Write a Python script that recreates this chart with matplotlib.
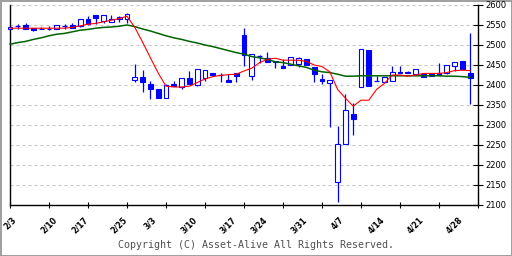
import numpy as np
import matplotlib.pyplot as plt

# 日付 (営業日) 2/3 - 5/1
dates = ["2/3", "2/4", "2/5", "2/6", "2/7", "2/10", "2/12", "2/13", "2/14",
         "2/17", "2/18", "2/19", "2/20", "2/21", "2/25", "2/26", "2/27", "2/28",
         "3/3", "3/4", "3/5", "3/6", "3/7", "3/10", "3/11", "3/12", "3/13", "3/14",
         "3/17", "3/18", "3/19", "3/21", "3/24", "3/25", "3/26", "3/27", "3/28",
         "3/31", "4/1", "4/2", "4/3", "4/4", "4/7", "4/8", "4/9", "4/10", "4/11",
         "4/14", "4/15", "4/16", "4/17", "4/18", "4/21", "4/22", "4/23", "4/24",
         "4/25", "4/28", "4/30", "5/1"]
shown = ["2/3", "2/10", "2/17", "2/25", "3/3", "3/10", "3/17", "3/24",
         "3/31", "4/7", "4/14", "4/21", "4/28"]

opens = [2540, 2548, 2550, 2542, 2541, 2541, 2539, 2548, 2550, 2548,
         2564, 2574, 2560, 2557, 2564, 2565, 2413, 2420, 2402, 2390,
         2368, 2402, 2396, 2417, 2400, 2418, 2429, 2425, 2413, 2429,
         2525, 2423, 2473, 2467, 2460, 2448, 2450, 2452, 2464, 2444,
         2415, 2404, 2158, 2252, 2328, 2394, 2488, 2410, 2408, 2411,
         2433, 2433, 2428, 2427, 2427, 2429, 2429, 2448, 2460, 2430]
highs = [2547, 2553, 2554, 2542, 2546, 2548, 2550, 2553, 2554, 2564,
         2572, 2575, 2574, 2575, 2572, 2581, 2453, 2438, 2410, 2390,
         2402, 2411, 2417, 2436, 2439, 2437, 2429, 2430, 2427, 2430,
         2543, 2477, 2474, 2482, 2461, 2464, 2471, 2470, 2464, 2445,
         2427, 2412, 2298, 2377, 2354, 2489, 2488, 2422, 2419, 2448,
         2448, 2435, 2439, 2427, 2427, 2456, 2449, 2458, 2460, 2529]
lows = [2539, 2541, 2539, 2535, 2539, 2538, 2539, 2541, 2542, 2546,
        2550, 2552, 2554, 2557, 2557, 2554, 2408, 2383, 2364, 2367,
        2367, 2397, 2389, 2403, 2398, 2411, 2424, 2408, 2408, 2407,
        2448, 2412, 2454, 2458, 2442, 2443, 2450, 2444, 2450, 2408,
        2402, 2296, 2108, 2252, 2275, 2394, 2398, 2410, 2408, 2411,
        2429, 2429, 2427, 2421, 2423, 2425, 2427, 2436, 2439, 2352]
closes = [2546, 2548, 2540, 2538, 2539, 2539, 2550, 2548, 2542, 2564,
          2552, 2568, 2574, 2564, 2569, 2577, 2419, 2408, 2390, 2368,
          2399, 2398, 2417, 2403, 2439, 2437, 2424, 2425, 2408, 2423,
          2475, 2477, 2473, 2458, 2457, 2443, 2471, 2467, 2450, 2427,
          2411, 2412, 2252, 2337, 2315, 2489, 2398, 2410, 2419, 2432,
          2429, 2429, 2439, 2421, 2423, 2425, 2449, 2458, 2439, 2417]

ma_short = [2542, 2542, 2542, 2542, 2542, 2542, 2542, 2542, 2544, 2548,
            2552, 2554, 2558, 2562, 2566, 2572, 2544, 2507, 2468, 2430,
            2397, 2395, 2395, 2397, 2406, 2415, 2421, 2424, 2426, 2427,
            2435, 2442, 2456, 2464, 2467, 2462, 2462, 2462, 2459, 2450,
            2446, 2433, 2389, 2367, 2347, 2362, 2362, 2389, 2404, 2425,
            2425, 2422, 2425, 2429, 2429, 2429, 2431, 2436, 2437, 2436]
ma_long = [2502, 2506, 2509, 2514, 2518, 2523, 2527, 2529, 2533, 2537,
           2539, 2542, 2544, 2545, 2547, 2550, 2546, 2540, 2535, 2529,
           2523, 2518, 2514, 2509, 2505, 2500, 2496, 2491, 2486, 2481,
           2477, 2471, 2468, 2464, 2458, 2456, 2452, 2448, 2444, 2437,
           2433, 2431, 2427, 2422, 2422, 2423, 2423, 2423, 2423, 2423,
           2423, 2423, 2423, 2423, 2423, 2423, 2422, 2422, 2421, 2419]

yticks = [2100, 2150, 2200, 2250, 2300, 2350, 2400, 2450, 2500, 2550, 2600]

blue = "#0000ff"
x = np.arange(len(dates))
o = np.array(opens)
c = np.array(closes)

fig = plt.figure(figsize=(5.12, 2.56), dpi=100, facecolor="white",
                 edgecolor="#a0a0a0", linewidth=2)
ax = fig.add_axes([10 / 512, 1 - 205 / 256, 468 / 512, 200 / 256])

for yv in yticks[1:]:
    ax.axhline(yv, color="#c4c4c4", lw=0.8, ls=(0, (2.7, 2.7)), zorder=1)

# ヒゲ
ax.vlines(x, lows, highs, color=blue, lw=0.9, zorder=2, clip_on=False)

# 実体
up = c > o
down = c < o
doji = c == o
ax.bar(x[up], (c - o)[up], bottom=o[up], width=0.62, facecolor="white",
       edgecolor=blue, linewidth=0.8, zorder=3, clip_on=False)
ax.bar(x[down], (c - o)[down], bottom=o[down], width=0.62, facecolor=blue,
       edgecolor=blue, linewidth=0.8, zorder=3)
ax.hlines(o[doji], x[doji] - 0.31, x[doji] + 0.31, color=blue, lw=0.9, zorder=3)

# 移動平均
ax.plot(x, ma_long, color="#006400", lw=1.1, zorder=4, clip_on=False)
ax.plot(x, ma_short, color="#ff0000", lw=0.8, zorder=5, clip_on=False)

ax.set_xlim(0, 60)
ax.set_ylim(2100, 2600)

ax.spines["top"].set_visible(False)
for s in ["left", "right", "bottom"]:
    ax.spines[s].set_linewidth(1.0)

ax.yaxis.tick_right()
ax.set_yticks(yticks)
ax.set_yticklabels([str(v) for v in yticks], fontsize=6)
ax.tick_params(axis="y", direction="inout", length=7, width=0.8, pad=1.5)

ax.xaxis.remove_overlapping_locs = False
ax.set_xticks(np.arange(0, 61, 5))
ax.set_xticklabels([])
ax.tick_params(axis="x", which="major", direction="inout", length=4.5, width=0.8)
lab_pos = [dates.index(d) for d in shown]
ax.set_xticks(lab_pos, minor=True)
ax.set_xticklabels(shown, minor=True, rotation=45, fontsize=5.6,
                   fontweight="bold", ha="center", va="top")
ax.tick_params(axis="x", which="minor", length=0, pad=7.5)

fig.text(0.5, 1 - 245 / 256, "Copyright (C) Asset-Alive All Rights Reserved.",
         ha="center", va="center", family="DejaVu Sans Mono", fontsize=7.2,
         color="#505050")

fig.savefig("out.png", dpi=100)
